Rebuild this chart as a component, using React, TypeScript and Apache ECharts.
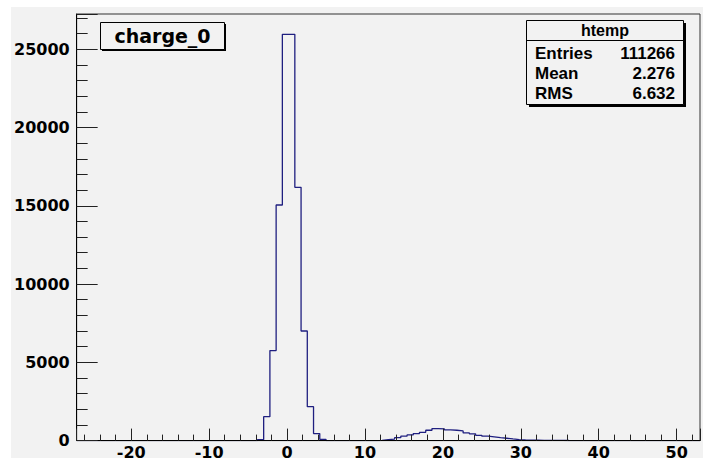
import React, { useEffect, useRef } from "react";
import * as echarts from "echarts";

// Histogram binning (100 bins from -27 to 53)
const xMin = -27;
const xMax = 53;
const binWidth = 0.8;

// Bin contents (bin k covers [xMin + k*0.8, xMin + (k+1)*0.8])
const counts: number[] = [
  0, 0, 0, 0, 0, 0, 0, 0, 0, 0,
  0, 0, 0, 0, 0, 0, 0, 0, 0, 0,
  0, 0, 0, 0, 0, 0, 0, 0, 0, 60,
  1530, 5750, 15050, 25950, 25950, 16180, 7000, 2170, 450, 80,
  0, 0, 0, 0, 0, 0, 0, 0, 20, 60,
  100, 190, 280, 360, 450, 530, 660, 770, 745, 680,
  660, 620, 490, 430, 340, 280, 235, 190, 150, 105,
  65, 45, 30, 25, 20, 15, 8, 20, 5, 0,
  0, 0, 0, 0, 0, 0, 0, 0, 0, 0,
  0, 0, 0, 0, 0, 0, 0, 0, 0, 0,
];

const yMax = 27250;

const titleText = "charge_0";
const statsTitle = "htemp";
const statsLabels = ["Entries", "Mean", "RMS"];
const statsValues = ["111266", "2.276", "6.632"];

const BG = "#f2f2f2";
const AXIS_FONT = "DejaVu Sans";
const STAT_FONT = "Liberation Sans";

export default function App() {
  const ref = useRef<HTMLDivElement>(null);

  useEffect(() => {
    if (!ref.current) return;
    const chart = echarts.init(ref.current, null, { renderer: "svg" });

    const data: number[][] = counts.map((c, k) => [xMin + k * binWidth, c]);
    data.push([xMax, counts[counts.length - 1]]);

    const rowYs = [46, 66, 86];

    const graphics: any[] = [
      // title box
      { type: "rect", shape: { x: 91, y: 17, width: 124, height: 27 }, style: { fill: "#000" }, z: 10 },
      { type: "rect", shape: { x: 89.5, y: 15.5, width: 124, height: 27 }, style: { fill: BG, stroke: "#000", lineWidth: 1 }, z: 11 },
      {
        type: "text", x: 151.5, y: 28.5, z: 12,
        style: { text: titleText, fontFamily: AXIS_FONT, fontWeight: "bold", fontSize: 19, fill: "#000", align: "center", verticalAlign: "middle" },
      },
      // stats box
      { type: "rect", shape: { x: 518, y: 16, width: 157, height: 84 }, style: { fill: "#000" }, z: 10 },
      { type: "rect", shape: { x: 515.5, y: 13.5, width: 157, height: 84 }, style: { fill: BG, stroke: "#000", lineWidth: 1 }, z: 11 },
      { type: "line", shape: { x1: 515.5, y1: 33.5, x2: 672.5, y2: 33.5 }, style: { stroke: "#000", lineWidth: 1 }, z: 12 },
      {
        type: "text", x: 594, y: 23.5, z: 12,
        style: { text: statsTitle, fontFamily: STAT_FONT, fontWeight: "bold", fontSize: 16, fill: "#000", align: "center", verticalAlign: "middle" },
      },
    ];
    statsLabels.forEach((lab, i) => {
      graphics.push({
        type: "text", x: 524, y: rowYs[i], z: 12,
        style: { text: lab, fontFamily: STAT_FONT, fontWeight: "bold", fontSize: 17, fill: "#000", align: "left", verticalAlign: "middle" },
      });
      graphics.push({
        type: "text", x: 664, y: rowYs[i], z: 12,
        style: { text: statsValues[i], fontFamily: STAT_FONT, fontWeight: "bold", fontSize: 17, fill: "#000", align: "right", verticalAlign: "middle" },
      });
    });

    const labelStyle = {
      fontFamily: AXIS_FONT,
      fontWeight: "bold" as const,
      fontSize: 16,
      color: "#000",
    };

    chart.setOption({
      animation: false,
      backgroundColor: BG,
      grid: {
        left: 64,
        top: 7,
        right: 2,
        bottom: 41.4,
        show: true,
        borderColor: "#333",
        borderWidth: 1,
        backgroundColor: "transparent",
      },
      xAxis: [
        {
          type: "value",
          min: xMin,
          max: xMax,
          splitNumber: 8,
          minInterval: 10,
          maxInterval: 10,
          position: "bottom",
          z: 5,
          axisLine: { show: true, onZero: false, lineStyle: { color: "#000", width: 1 } },
          axisTick: { show: true, inside: true, length: 12, lineStyle: { color: "#222", width: 1 } },
          axisLabel: {
            ...labelStyle,
            margin: 4,
            formatter: (v: number) => (Math.abs(v % 10) < 1e-9 ? String(Math.round(v)) : ""),
          },
          splitLine: { show: false },
        },
        {
          type: "value",
          min: xMin,
          max: xMax,
          splitNumber: 40,
          minInterval: 2,
          maxInterval: 2,
          position: "bottom",
          z: 5,
          axisLine: { show: false, onZero: false },
          axisTick: { show: true, inside: true, length: 6, lineStyle: { color: "#222", width: 1 } },
          axisLabel: { show: false },
          splitLine: { show: false },
        },
      ],
      yAxis: [
        {
          type: "value",
          min: 0,
          max: yMax,
          interval: 5000,
          position: "left",
          z: 5,
          axisLine: { show: true, onZero: false, lineStyle: { color: "#000", width: 1 } },
          axisTick: { show: true, inside: true, length: 21, lineStyle: { color: "#222", width: 1 } },
          axisLabel: {
            ...labelStyle,
            margin: 7,
            formatter: (v: number) => (v % 5000 === 0 ? String(v) : ""),
          },
          splitLine: { show: false },
        },
        {
          type: "value",
          min: 0,
          max: yMax,
          interval: 1000,
          position: "left",
          offset: 0,
          z: 5,
          axisLine: { show: false, onZero: false },
          axisTick: { show: true, inside: true, length: 11, lineStyle: { color: "#222", width: 1 } },
          axisLabel: { show: false },
          splitLine: { show: false },
        },
      ],
      series: [
        {
          type: "line",
          xAxisIndex: 0,
          yAxisIndex: 0,
          data,
          step: "end",
          symbol: "none",
          showSymbol: false,
          silent: true,
          z: 2,
          lineStyle: { color: "#1f1f80", width: 1.3 },
        },
      ],
      graphic: graphics,
    });

    return () => chart.dispose();
  }, []);

  return (
    <div
      style={{
        position: "fixed",
        left: 0,
        top: 0,
        width: 703,
        height: 458,
        overflow: "hidden",
        background: "#fff",
      }}
    >
      <div ref={ref} style={{ position: "absolute", left: 11, top: 7, width: 692, height: 475 }} />
    </div>
  );
}
